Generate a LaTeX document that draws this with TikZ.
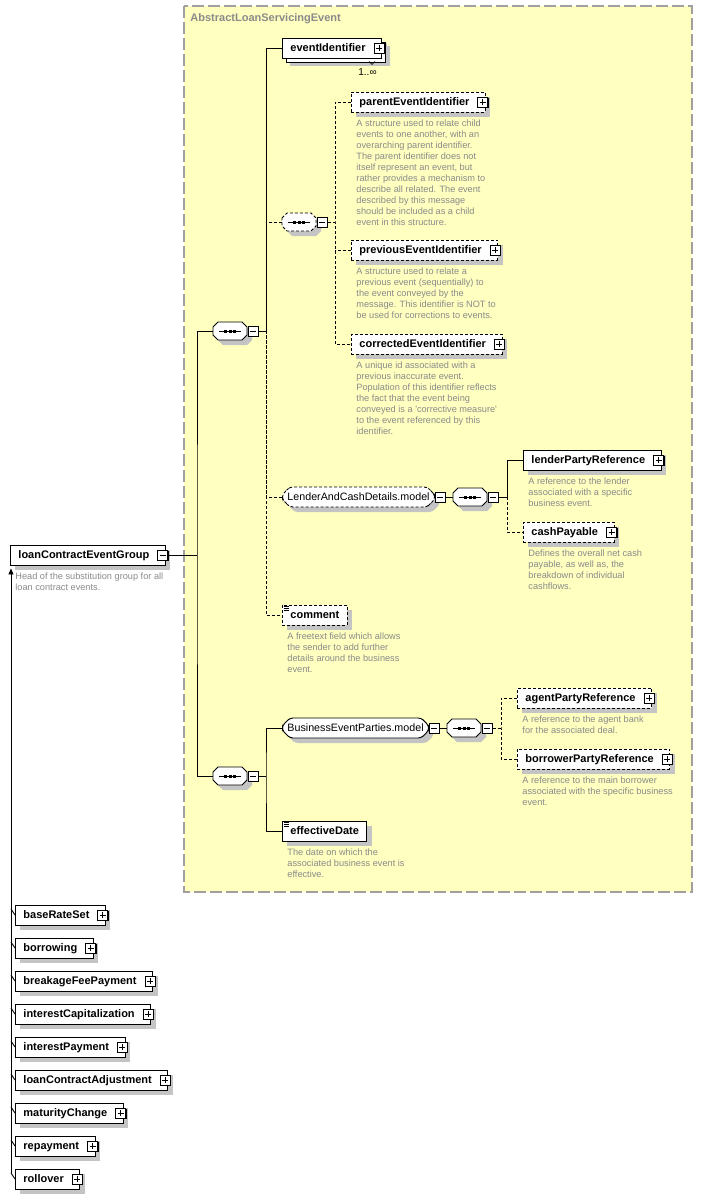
\documentclass[tikz,border=0pt]{standalone}
\usepackage{fontspec}
\setmainfont{Liberation Sans}
\usetikzlibrary{positioning,shapes.misc,shadows,arrows.meta}
\definecolor{framefill}{HTML}{FFFFC0}
\definecolor{framedraw}{HTML}{A0A0A0}
\definecolor{shadowgray}{HTML}{C4C4C4}
\definecolor{descgray}{HTML}{8A8A8A}
\tikzset{boxshadow/.style={drop shadow={shadow xshift=#1,shadow yshift=-#1,fill=shadowgray,opacity=1}},boxshadow/.default=5pt}
\tikzset{optline/.style={dash pattern=on 3pt off 2pt}}
\tikzset{elem/.style={draw,fill=white,boxshadow,anchor=west,font=\bfseries\fontsize{11}{13}\selectfont,minimum height=20pt,inner ysep=0pt,inner xsep=8pt,text height=9.5pt,text depth=2.5pt}}
\tikzset{optelem/.style={elem,optline}}
\tikzset{haskids/.style={execute at end node=\hspace*{8pt}}}
\tikzset{model/.style={draw,fill=white,boxshadow,anchor=west,chamfered rectangle,chamfered rectangle xsep=4pt,rounded corners=3pt,font=\fontsize{10.7}{13}\selectfont,minimum height=20pt,inner ysep=0pt,inner xsep=1pt,text height=9pt,text depth=2.5pt}}
\tikzset{desc/.style={font=\fontsize{9.2}{11}\selectfont,text=descgray,align=left,inner sep=0pt}}
\tikzset{grouptitle/.style={font=\bfseries\fontsize{11}{13}\selectfont,text=descgray,anchor=west,inner sep=0pt}}
\tikzset{plusicon/.pic={\fill (-4,-4) rectangle (6,6); \draw[solid,fill=white] (-5,-5) rectangle (5,5); \draw[solid] (-3,0) -- (3,0) (0,-3) -- (0,3);}}
\tikzset{minusicon/.pic={\fill (-4,-4) rectangle (6,6); \draw[solid,fill=white] (-5,-5) rectangle (5,5); \draw[solid] (-3,0) -- (3,0);}}
\tikzset{textmark/.pic={\draw[solid,line width=.7pt] (1.5,1.5) -- ++(5,0) (1.5,3.5) -- ++(5,0) (1.5,5.5) -- ++(5,0);}}
\tikzset{seqpic/.pic={
  \fill[shadowgray,shift={(5,5)}] (0,-4) -- (5,-9) -- (29,-9) -- (34,-4) -- (34,4) -- (29,9) -- (5,9) -- (0,4) -- cycle;
  \draw[fill=white] (0,-4) -- (5,-9) -- (29,-9) -- (34,-4) -- (34,4) -- (29,9) -- (5,9) -- (0,4) -- cycle;
  \draw[solid] (6,0) -- (28,0);
  \foreach \d in {12.5,17,21.5} \fill (\d-1.5,-1.5) rectangle (\d+1.5,1.5);
  \pic at (40,0) {minusicon};
  \coordinate (-in) at (0,0);
  \coordinate (-out) at (46,0);
}}

\begin{document}
\begin{tikzpicture}[x=1pt,y=-1pt,line width=.9pt]
  \useasboundingbox (0,0) rectangle (703,1199);
  \draw[fill=framefill,draw=framedraw,line width=1.2pt,dash pattern=on 12pt off 4pt] (184,6) rectangle (692,892);
  \node[grouptitle] (title) at (190,19) {AbstractLoanServicingEvent};

  \node[elem,haskids] (root) at (10,555) {loanContractEventGroup};
  \pic at ([xshift=-3pt]root.east) {minusicon};
  \node[desc,below right=7pt and 5pt of root.south west] (rootdesc) {Head of the substitution group for all\\loan contract events.};

  \pic (seqA) at (213,331) {seqpic};
  \pic (seqB) at (213,776) {seqpic};
  \coordinate (busR) at (197,555);
  \draw ([xshift=3pt]root.east) -- (busR);
  \draw (seqA-in) -| (busR) |- (seqB-in);

  \node[elem,haskids,boxshadow=8pt,copy shadow={shadow xshift=4pt,shadow yshift=-4pt,draw=black,fill=white}] (evid) at (282,48) {eventIdentifier};
  \pic at ([xshift=-3pt]evid.east) {plusicon};
  \draw[line width=.6pt] ([xshift=-13pt,yshift=-3pt]evid.south east) -- ++(3,3) -- ++(3,-3);
  \node[font=\fontsize{10}{12}\selectfont,inner sep=0pt,below left=10pt and 5pt of evid.south east] (evidocc) {1..∞};

  \pic[optline] (choice) at (282,222) {seqpic};

  \node[optelem,haskids] (parent) at (351,102) {parentEventIdentifier};
  \pic at ([xshift=-3pt]parent.east) {plusicon};
  \node[desc,below right=7pt and 5pt of parent.south west] (parentdesc) {A structure used to relate child\\events to one another, with an\\overarching parent identifier.\\The parent identifier does not\\itself represent an event, but\\rather provides a mechanism to\\describe all related. The event\\described by this message\\should be included as a child\\event in this structure.};

  \node[optelem,haskids] (previous) at (351,250) {previousEventIdentifier};
  \pic at ([xshift=-3pt]previous.east) {plusicon};
  \node[desc,below right=7pt and 5pt of previous.south west] (previousdesc) {A structure used to relate a\\previous event (sequentially) to\\the event conveyed by the\\message. This identifier is NOT to\\be used for corrections to events.};

  \node[optelem,haskids] (corrected) at (351,344) {correctedEventIdentifier};
  \pic at ([xshift=-3pt]corrected.east) {plusicon};
  \node[desc,below right=7pt and 5pt of corrected.south west] (correcteddesc) {A unique id associated with a\\previous inaccurate event.\\Population of this identifier reflects\\the fact that the event being\\conveyed is a \textquotesingle corrective measure\textquotesingle\\to the event referenced by this\\identifier.};

  \node[model,optline] (lacd) at (282,497) {LenderAndCashDetails.model};
  \pic at ([xshift=5pt]lacd.east) {minusicon};
  \pic (seqC) at (453,497) {seqpic};

  \node[elem,haskids] (lender) at (523,460) {lenderPartyReference};
  \pic at ([xshift=-3pt]lender.east) {plusicon};
  \node[desc,below right=7pt and 5pt of lender.south west] (lenderdesc) {A reference to the lender\\associated with a specific\\business event.};

  \node[optelem,haskids] (cash) at (523,532) {cashPayable};
  \pic at ([xshift=-3pt]cash.east) {plusicon};
  \node[desc,below right=7pt and 5pt of cash.south west] (cashdesc) {Defines the overall net cash\\payable, as well as, the\\breakdown of individual\\cashflows.};

  \node[optelem] (comment) at (282,615) {comment};
  \pic at (comment.north west) {textmark};
  \node[desc,below right=7pt and 5pt of comment.south west] (commentdesc) {A freetext field which allows\\the sender to add further\\details around the business\\event.};

  \node[model] (bep) at (282,728) {BusinessEventParties.model};
  \pic at ([xshift=5pt]bep.east) {minusicon};
  \pic (seqD) at (447,728) {seqpic};

  \node[optelem,haskids] (agent) at (517,698) {agentPartyReference};
  \pic at ([xshift=-3pt]agent.east) {plusicon};
  \node[desc,below right=7pt and 5pt of agent.south west] (agentdesc) {A reference to the agent bank\\for the associated deal.};

  \node[optelem,haskids] (borrower) at (517,759) {borrowerPartyReference};
  \pic at ([xshift=-3pt]borrower.east) {plusicon};
  \node[desc,below right=7pt and 5pt of borrower.south west] (borrowerdesc) {A reference to the main borrower\\associated with the specific business\\event.};

  \node[elem] (effdate) at (282,831) {effectiveDate};
  \pic at (effdate.north west) {textmark};
  \node[desc,below right=7pt and 5pt of effdate.south west] (effdatedesc) {The date on which the\\associated business event is\\effective.};

  \coordinate (busA) at (266,331);
  \draw (seqA-out) -- (busA);
  \draw (evid.west) -| (busA);
  \draw[optline] (busA) |- (comment.west);
  \draw[optline] (lacd.west) -| (busA);
  \draw[optline] (choice-in) -- (choice-in -| busA);

  \coordinate (busB) at (335,222);
  \draw[optline] (choice-out) -- (busB);
  \draw[optline] (parent.west) -| (busB) |- (corrected.west);
  \draw[optline] (previous.west) -- (previous.west -| busB);

  \draw ([xshift=11pt]lacd.east) -- (seqC-in);
  \coordinate (busC) at (507,497);
  \draw (seqC-out) -- (busC);
  \draw (lender.west) -| (busC);
  \draw[optline] (busC) |- (cash.west);

  \coordinate (busE) at (266,776);
  \draw (seqB-out) -- (busE);
  \draw (bep.west) -| (busE) |- (effdate.west);

  \draw ([xshift=11pt]bep.east) -- (seqD-in);
  \coordinate (busD) at (501,728);
  \draw[optline] (seqD-out) -- (busD);
  \draw[optline] (agent.west) -| (busD) |- (borrower.west);

  \foreach \nm [count=\i] in {baseRateSet,borrowing,breakageFeePayment,interestCapitalization,interestPayment,loanContractAdjustment,maturityChange,repayment,rollover}{
    \node[elem,haskids] (sub\i) at (15,{882+33*\i}) {\nm};
    \pic at ([xshift=-3pt]sub\i.east) {plusicon};
    \draw (sub\i.west) -- ++(-4,-6) coordinate (tick\i);
  }
  \coordinate (subtip) at ([yshift=-3pt]root.south west);
  \draw[-{Triangle[length=6pt,width=5pt]}] (tick9) -- (subtip -| tick9);
\end{tikzpicture}
\end{document}
